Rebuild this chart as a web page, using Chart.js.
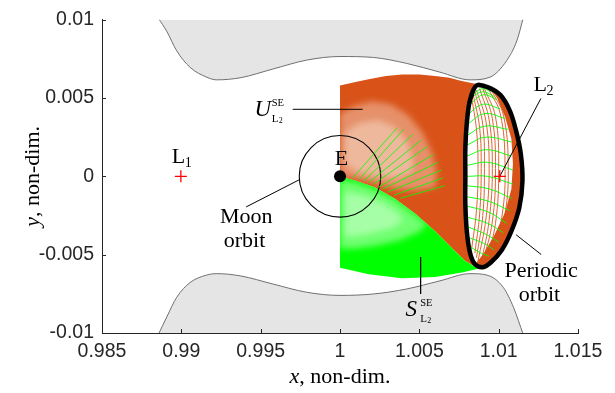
<!DOCTYPE html>
<html>
<head>
<meta charset="utf-8">
<script src="https://cdn.jsdelivr.net/npm/chart.js@4/dist/chart.umd.min.js"></script>
<style>
  html, body { margin: 0; padding: 0; background: #ffffff; }
  #wrap { width: 615px; height: 393px; }
</style>
</head>
<body>
<div id="wrap"><canvas id="chart" width="615" height="393"></canvas></div>
<script>
// ---- axis ticks ----
const xTickValues = [0.985, 0.99, 0.995, 1, 1.005, 1.01, 1.015];
const xTickLabels = ['0.985', '0.99', '0.995', '1', '1.005', '1.01', '1.015'];
const yTickValues = [-0.01, -0.005, 0, 0.005, 0.01];
const yTickLabels = ['-0.01', '-0.005', '0', '0.005', '0.01'];

// ---- zero-velocity curves (forbidden regions) ----
const zvcUpper = [[0.98855, 0.0101], [0.98908, 0.00926], [0.98971, 0.00801], [0.99055, 0.00696], [0.9916, 0.00633],
  [0.99223, 0.00616], [0.9937, 0.00629], [0.9958, 0.00686], [0.9979, 0.00742], [1.0, 0.00765], [1.0021, 0.00759],
  [1.0042, 0.00721], [1.0063, 0.00665], [1.0082, 0.00616], [1.00945, 0.00633], [1.0105, 0.00738], [1.01114, 0.00864],
  [1.01155, 0.0101]];
const zvcLower = [[0.98855, -0.0101], [0.98908, -0.00898], [0.98971, -0.00772], [0.99055, -0.00678], [0.9916, -0.0063],
  [0.99223, -0.00621], [0.9937, -0.00635], [0.9958, -0.00688], [0.9979, -0.0074], [1.0, -0.0076], [1.0021, -0.00751],
  [1.0042, -0.00719], [1.0063, -0.00667], [1.0082, -0.00621], [1.00925, -0.0063], [1.0103, -0.0071], [1.01093, -0.00835],
  [1.01155, -0.0101]];

// ---- manifold sections ----
const unstableRegion = [[1.0, 0.0058], [1.0009, 0.0060], [1.0018, 0.0062], [1.0029, 0.0064], [1.0039, 0.0065],
  [1.0050, 0.0065], [1.0060, 0.0064], [1.0069, 0.0063], [1.0076, 0.0061], [1.0086, 0.0059], [1.0084, 0.0],
  [1.0087, -0.0059], [1.0079, -0.0054], [1.00705, -0.00457], [1.006, -0.0035], [1.00473, -0.00237],
  [1.00347, -0.00143], [1.0022, -0.00069], [1.00095, -0.00027], [1.0, 0.0]];
const stableRegion = [[1.0, 0.0], [1.00095, -0.00027], [1.0022, -0.00069], [1.00347, -0.00143], [1.00473, -0.00237],
  [1.006, -0.0035], [1.00705, -0.00457], [1.0079, -0.0054], [1.0087, -0.0059], [1.0077, -0.00614], [1.006, -0.00642],
  [1.0039, -0.0065], [1.0018, -0.00625], [1.0, -0.00583]];
// sparse (lighter) parts of the manifolds
const unstableSparseOuter = [[1.0, 0.0040], [1.0009, 0.0045], [1.0020, 0.0048], [1.0032, 0.0046], [1.0043, 0.0039],
  [1.0052, 0.0028], [1.0058, 0.0015], [1.0061, 0.0002], [1.0060, -0.0007], [1.0048, -0.0009], [1.0035, -0.0008],
  [1.0020, -0.0004], [1.0008, -0.0001], [1.0, 0.0]];
const unstableSparseInner = [[1.0003, 0.0028], [1.0012, 0.0034], [1.0024, 0.0036], [1.0034, 0.0032], [1.0042, 0.0023],
  [1.0046, 0.0012], [1.0046, 0.0003], [1.0036, -0.0001], [1.0022, 0.0000], [1.0010, 0.0003], [1.0003, 0.0008]];
const stableSparseOuter = [[1.0, -0.0002], [1.0010, -0.0004], [1.0022, -0.0008], [1.0035, -0.0015], [1.0047, -0.0024],
  [1.0055, -0.0031], [1.0049, -0.0036], [1.0037, -0.0041], [1.0024, -0.0044], [1.0010, -0.0046], [1.0, -0.0046]];
const stableSparseInner = [[1.0003, -0.0010], [1.0014, -0.0012], [1.0025, -0.0016], [1.0035, -0.0022], [1.0040, -0.0028],
  [1.0033, -0.0033], [1.0021, -0.0036], [1.0010, -0.0038], [1.0003, -0.0038]];
// stable trajectories crossing the unstable section
const stableFan = [
  [[1.0012, -0.0002], [1.0040, 0.0030]], [[1.0015, -0.0003], [1.0046, 0.0027]], [[1.0018, -0.0004], [1.0051, 0.0023]],
  [[1.0021, -0.0005], [1.0055, 0.0019]], [[1.0024, -0.0007], [1.0059, 0.0014]], [[1.0027, -0.0008], [1.0062, 0.0009]],
  [[1.0030, -0.0010], [1.0064, 0.0004]], [[1.0034, -0.0012], [1.0065, -0.0001]], [[1.0008, -0.0001], [1.0036, 0.0031]],
  [[1.0038, -0.0014], [1.0066, -0.0006]]];

// ---- periodic orbit about L2 ----
const periodicOrbit = [[1.0086, 0.0058], [1.0093, 0.0057], [1.0101, 0.0052], [1.0107, 0.0042], [1.0111, 0.0029],
  [1.0114, 0.0014], [1.0115, -0.0003], [1.0113, -0.0020], [1.0108, -0.0035], [1.0102, -0.0047], [1.0095, -0.0055],
  [1.0090, -0.0058], [1.0085, -0.0056], [1.0082, -0.0049], [1.0080, -0.0036], [1.0079, -0.0018], [1.0079, 0.0],
  [1.0079, 0.0018], [1.0080, 0.0035], [1.0082, 0.0049]];
const orbitCrescent = [[1.0095, 0.0056], [1.0101, 0.0052], [1.0107, 0.0042], [1.0111, 0.0029], [1.0114, 0.0014],
  [1.0115, -0.0003], [1.0113, -0.0020], [1.0108, -0.0035], [1.0102, -0.0047], [1.0095, -0.0055], [1.0090, -0.0058],
  [1.0086, -0.0055], [1.0090, -0.0050], [1.0097, -0.0038], [1.0104, -0.0023], [1.0108, -0.0008], [1.0109, 0.0008],
  [1.0108, 0.0024], [1.0104, 0.0038], [1.0099, 0.0050]];
const unstableTubeLines = [
  [[1.0083, 0.0050], [1.0086, 0.0030], [1.0087, 0.0005], [1.0086, -0.0022], [1.0083, -0.0046]],
  [[1.0084, 0.0052], [1.0088, 0.0031], [1.0089, 0.0005], [1.0088, -0.0024], [1.0085, -0.0049]],
  [[1.0085, 0.0054], [1.0090, 0.0033], [1.0091, 0.0005], [1.0090, -0.0025], [1.0086, -0.0052]],
  [[1.0086, 0.0055], [1.0092, 0.0035], [1.0094, 0.0005], [1.0092, -0.0027], [1.0087, -0.0054]],
  [[1.0088, 0.0056], [1.0094, 0.0036], [1.0096, 0.0005], [1.0094, -0.0028], [1.0089, -0.0055]],
  [[1.0090, 0.0056], [1.0096, 0.0037], [1.0098, 0.0005], [1.0096, -0.0029], [1.0090, -0.0055]],
  [[1.0091, 0.0056], [1.0098, 0.0038], [1.0100, 0.0005], [1.0098, -0.0030], [1.0092, -0.0055]],
  [[1.0094, 0.0055], [1.0101, 0.0040], [1.0104, 0.0008], [1.0102, -0.0026], [1.0095, -0.0051]],
  [[1.0096, 0.0054], [1.0103, 0.0039], [1.0106, 0.0008], [1.0104, -0.0024], [1.0097, -0.0048]]];
const stableTubeLines = [
  [[1.0084, 0.0053], [1.0090, 0.0056], [1.0095, 0.0054]],
  [[1.0082, 0.0050], [1.0090, 0.0054], [1.0097, 0.0051]],
  [[1.0081, 0.0045], [1.0090, 0.0052], [1.0099, 0.0049]],
  [[1.0080, 0.0039], [1.0090, 0.0046], [1.0101, 0.0043]],
  [[1.0080, 0.0033], [1.0091, 0.0040], [1.0104, 0.0037]],
  [[1.0080, 0.0026], [1.0091, 0.0032], [1.0106, 0.0030]],
  [[1.0080, 0.0020], [1.0092, 0.0025], [1.0108, 0.0022]],
  [[1.0080, 0.0013], [1.0092, 0.0017], [1.0108, 0.0013]],
  [[1.0080, 0.0007], [1.0093, 0.0009], [1.0109, 0.0004]],
  [[1.0080, 0.0000], [1.0093, 0.0000], [1.0109, -0.0005]],
  [[1.0080, -0.0006], [1.0094, -0.0008], [1.0108, -0.0014]],
  [[1.0080, -0.0013], [1.0094, -0.0016], [1.0107, -0.0022]],
  [[1.0080, -0.0019], [1.0094, -0.0023], [1.0105, -0.0030]],
  [[1.0080, -0.0026], [1.0093, -0.0030], [1.0103, -0.0036]],
  [[1.0080, -0.0032], [1.0092, -0.0037], [1.0100, -0.0042]],
  [[1.0081, -0.0039], [1.0091, -0.0043], [1.0097, -0.0047]],
  [[1.0082, -0.0045], [1.0089, -0.0049], [1.0094, -0.0051]]];

// ---- bodies, libration points, Moon orbit ----
const earth = [1.0, 0.0];
const moonOrbitRadius = 0.00257;
const librationPoints = [[0.98997, 0.0], [1.01007, 0.0]];

// ---- label leader lines ----
const leaderLines = [
  [[0.99702, 0.00428], [1.00143, 0.00428]],
  [[1.00508, -0.00516], [1.00508, -0.0075]],
  [[0.99745, -0.00021], [0.99409, -0.00195]],
  [[1.01266, 0.00497], [1.01007, 0.0]],
  [[1.0111, -0.00373], [1.01268, -0.00499]]];

// ---- colours ----
const ORANGE = '#d95319', GREEN = '#00ff00', GREY_FILL = '#e5e5e5', GREY_EDGE = '#707070', INK = '#262626';

const xy = pts => pts.map(([x, y]) => ({x, y}));

const datasets = [];
function addLine(pts, opts) {
  datasets.push(Object.assign({
    data: xy(pts), showLine: true, pointRadius: 0, pointHoverRadius: 0, borderWidth: 1, fill: false, tension: 0
  }, opts));
}
addLine(zvcUpper, {borderColor: GREY_EDGE, backgroundColor: GREY_FILL, fill: 'end', cubicInterpolationMode: 'monotone'});
addLine(zvcLower, {borderColor: GREY_EDGE, backgroundColor: GREY_FILL, fill: 'start', cubicInterpolationMode: 'monotone'});
stableFan.forEach(l => addLine(l, {borderColor: GREEN, borderWidth: 0.8}));
unstableTubeLines.forEach(l => addLine(l, {borderColor: ORANGE, borderWidth: 0.9, tension: 0.4}));
stableTubeLines.forEach(l => addLine(l, {borderColor: GREEN, borderWidth: 0.9, tension: 0.4}));
// closed orbit: wrap a couple of points so the join is smooth
const n = periodicOrbit.length;
addLine([periodicOrbit[n - 1], ...periodicOrbit, periodicOrbit[0], periodicOrbit[1]],
  {borderColor: '#000000', borderWidth: 4.5, tension: 0.35});
leaderLines.forEach(l => addLine(l, {borderColor: '#000000', borderWidth: 1}));
datasets.push({data: xy([earth]), showLine: false, pointRadius: 6, pointHoverRadius: 6,
  pointBackgroundColor: '#000000', pointBorderWidth: 0});
datasets.push({data: xy(librationPoints), showLine: false, pointStyle: 'cross', pointRadius: 6, pointHoverRadius: 6,
  pointBorderColor: '#ff0000', pointBorderWidth: 1.3});
// first dataset drawn first
datasets.forEach((d, i) => { d.order = datasets.length - i; });

function tracePath(ctx, sx, sy, pts) {
  ctx.beginPath();
  pts.forEach(([x, y], i) => {
    const px = sx.getPixelForValue(x), py = sy.getPixelForValue(y);
    if (i === 0) ctx.moveTo(px, py); else ctx.lineTo(px, py);
  });
  ctx.closePath();
}

const regionsPlugin = {
  id: 'manifoldRegions',
  beforeDatasetsDraw(chart) {
    const {ctx, chartArea: a, scales: {x: sx, y: sy}} = chart;
    ctx.save();
    ctx.beginPath();
    ctx.rect(a.left, a.top, a.right - a.left, a.bottom - a.top);
    ctx.clip();
    tracePath(ctx, sx, sy, unstableRegion); ctx.fillStyle = ORANGE; ctx.fill();
    tracePath(ctx, sx, sy, stableRegion); ctx.fillStyle = GREEN; ctx.fill();
    // sparse trajectory bundles: soft-edged lighter areas inside each section
    [[unstableRegion, [[unstableSparseOuter, '#e6916a'], [unstableSparseInner, '#eeb89d']]],
     [stableRegion, [[stableSparseOuter, '#70ff70'], [stableSparseInner, '#a6ffa6']]]].forEach(([clipPts, layers]) => {
      ctx.save();
      tracePath(ctx, sx, sy, clipPts);
      ctx.clip();
      ctx.filter = 'blur(3px)';
      layers.forEach(([pts, col]) => { tracePath(ctx, sx, sy, pts); ctx.fillStyle = col; ctx.fill(); });
      ctx.restore();
    });
    tracePath(ctx, sx, sy, periodicOrbit); ctx.fillStyle = '#ffffff'; ctx.fill();
    tracePath(ctx, sx, sy, orbitCrescent); ctx.fillStyle = ORANGE; ctx.fill();
    // Moon orbit around the Earth
    const cx = sx.getPixelForValue(earth[0]), cy = sy.getPixelForValue(earth[1]);
    const r = sx.getPixelForValue(earth[0] + moonOrbitRadius) - cx;
    ctx.beginPath();
    ctx.arc(cx, cy, r, 0, Math.PI * 2);
    ctx.strokeStyle = '#000000';
    ctx.lineWidth = 1.1;
    ctx.stroke();
    ctx.restore();
  }
};

const SERIF = '"Liberation Serif", "Times New Roman", serif';
function txt(ctx, s, x, y, font, align, base) {
  ctx.font = font;
  ctx.textAlign = align || 'center';
  ctx.textBaseline = base || 'middle';
  ctx.fillText(s, x, y);
}
function manifoldLabel(ctx, glyph, x, y) {
  txt(ctx, glyph, x, y, 'italic 23px ' + SERIF);
  txt(ctx, 'SE', x + 9, y - 7, '10.5px ' + SERIF, 'left');
  txt(ctx, 'L', x + 9, y + 9, '11px ' + SERIF, 'left');
  txt(ctx, '2', x + 16, y + 11, '8px ' + SERIF, 'left');
}

const textPlugin = {
  id: 'annotationsText',
  afterDraw(chart) {
    const {ctx, chartArea: a, scales: {x: sx, y: sy}} = chart;
    const P = (x, y) => [sx.getPixelForValue(x), sy.getPixelForValue(y)];
    ctx.save();
    // inward tick marks
    ctx.strokeStyle = INK;
    ctx.lineWidth = 1;
    ctx.beginPath();
    xTickValues.forEach(v => {
      const px = Math.round(sx.getPixelForValue(v)) + 0.5;
      ctx.moveTo(px, a.bottom); ctx.lineTo(px, a.bottom - 4);
    });
    yTickValues.forEach(v => {
      const py = Math.round(sy.getPixelForValue(v)) + 0.5;
      ctx.moveTo(a.left, py); ctx.lineTo(a.left + 4, py);
    });
    ctx.stroke();

    ctx.fillStyle = '#000000';
    // axis titles
    const xTitleY = 377, cxm = (a.left + a.right) / 2;
    ctx.font = 'italic 22px ' + SERIF;
    const w1 = ctx.measureText('x').width;
    ctx.font = '22px ' + SERIF;
    const w2 = ctx.measureText(', non-dim.').width;
    const x0 = cxm - (w1 + w2) / 2;
    txt(ctx, 'x', x0, xTitleY, 'italic 22px ' + SERIF, 'left');
    txt(ctx, ', non-dim.', x0 + w1, xTitleY, '22px ' + SERIF, 'left');
    ctx.save();
    ctx.translate(33, (a.top + a.bottom) / 2);
    ctx.rotate(-Math.PI / 2);
    ctx.font = 'italic 22px ' + SERIF;
    const w3 = ctx.measureText('y').width;
    ctx.font = '22px ' + SERIF;
    const w4 = ctx.measureText(', non-dim.').width;
    txt(ctx, 'y', -(w3 + w4) / 2, 0, 'italic 22px ' + SERIF, 'left');
    txt(ctx, ', non-dim.', -(w3 + w4) / 2 + w3, 0, '22px ' + SERIF, 'left');
    ctx.restore();

    // point labels
    let p = P(1.0001, 0.00107);
    txt(ctx, 'E', p[0], p[1], '22px ' + SERIF);
    p = P(0.98939, 0.0012);
    txt(ctx, 'L', p[0], p[1], '22px ' + SERIF, 'left');
    txt(ctx, '1', p[0] + 13, p[1] + 6, '14px ' + SERIF, 'left');
    p = P(1.0122, 0.00579);
    txt(ctx, 'L', p[0], p[1], '22px ' + SERIF, 'left');
    txt(ctx, '2', p[0] + 13, p[1] + 6, '14px ' + SERIF, 'left');
    p = P(0.99409, -0.00262);
    txt(ctx, 'Moon', p[0], p[1], '22px ' + SERIF);
    p = P(0.99398, -0.00415);
    txt(ctx, 'orbit', p[0], p[1], '22px ' + SERIF);
    p = P(1.01268, -0.00608);
    txt(ctx, 'Periodic', p[0], p[1], '22px ' + SERIF);
    p = P(1.01257, -0.00761);
    txt(ctx, 'orbit', p[0], p[1], '22px ' + SERIF);
    p = P(0.99513, 0.00423);
    manifoldLabel(ctx, 'U', p[0], p[1]);
    p = P(1.00449, -0.00855);
    manifoldLabel(ctx, 'S', p[0], p[1]);
    ctx.restore();
  }
};

const tickLabelFont = {family: '"Liberation Sans", Arial, sans-serif', size: 19.5};
function labelFor(values, labels) {
  return v => {
    let best = 0;
    values.forEach((t, i) => { if (Math.abs(t - v) < Math.abs(values[best] - v)) best = i; });
    return labels[best];
  };
}

new Chart(document.getElementById('chart'), {
  type: 'scatter',
  data: {datasets},
  options: {
    responsive: false,
    animation: false,
    devicePixelRatio: 1,
    layout: {padding: {top: 15, right: 37, left: 0, bottom: 0}},
    plugins: {legend: {display: false}, tooltip: {enabled: false}},
    events: [],
    scales: {
      x: {
        type: 'linear', position: 'bottom', min: 0.985, max: 1.015,
        afterBuildTicks: s => { s.ticks = xTickValues.map(v => ({value: v})); },
        afterFit: s => { s.height = 60; },
        grid: {display: false, drawTicks: false},
        border: {display: true, color: INK, width: 1},
        ticks: {color: INK, font: tickLabelFont, padding: 7, maxRotation: 0, autoSkip: false,
          callback: labelFor(xTickValues, xTickLabels)}
      },
      y: {
        type: 'linear', position: 'left', min: -0.01, max: 0.01,
        afterBuildTicks: s => { s.ticks = yTickValues.map(v => ({value: v})); },
        afterFit: s => { s.width = 102; },
        grid: {display: false, drawTicks: false},
        border: {display: true, color: INK, width: 1},
        ticks: {color: INK, font: tickLabelFont, padding: 8, autoSkip: false,
          callback: labelFor(yTickValues, yTickLabels)}
      }
    }
  },
  plugins: [regionsPlugin, textPlugin]
});
</script>
</body>
</html>
